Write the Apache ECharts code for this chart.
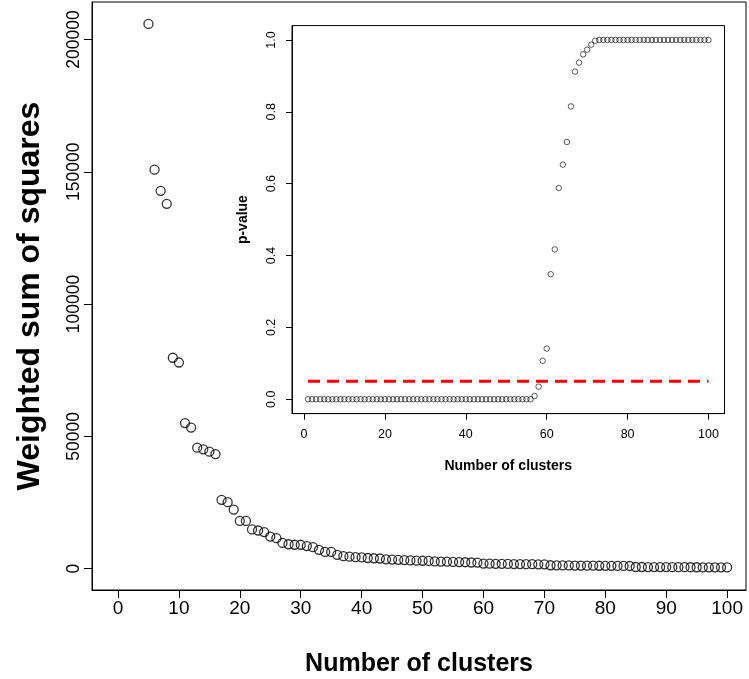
<!DOCTYPE html>
<html>
<head>
<meta charset="utf-8">
<script src="https://cdn.jsdelivr.net/npm/echarts@6/dist/echarts.min.js"></script>
<style>html,body{margin:0;padding:0;background:#fff;}#c{width:749px;height:679px;}</style>
</head>
<body>
<div id="c"></div>
<script>
// Main panel: number of clusters vs weighted sum of squares
const mainClusters = [5,6,7,8,9,10,11,12,13,14,15,16,17,18,19,20,21,22,23,24,25,26,27,28,29,30,
  31,32,33,34,35,36,37,38,39,40,41,42,43,44,45,46,47,48,49,50,51,52,53,54,55,56,57,58,59,60,
  61,62,63,64,65,66,67,68,69,70,71,72,73,74,75,76,77,78,79,80,81,82,83,84,85,86,87,88,89,90,
  91,92,93,94,95,96,97,98,99,100];
const mainWSS = [205900,150800,142800,137900,79700,77900,55000,53300,45700,45100,44200,43300,
  26000,25100,22300,18000,18000,14800,14400,13800,12100,11500,9700,9200,9000,9000,
  8500,8100,7100,6300,6300,5200,4700,4500,4300,4200,4000,3900,3800,3500,3400,3300,3200,3100,3000,2950,
  2900,2700,2650,2600,2500,2450,2400,2300,2250,1900,1850,1800,1780,1750,1720,1700,1680,1650,1620,1600,
  1250,1230,1200,1180,1150,1130,1100,1080,1060,1050,1030,1010,1000,980,600,590,580,570,560,550,
  540,530,520,510,500,490,480,470,460,450];
const mainXTicks = [0,10,20,30,40,50,60,70,80,90,100];
const mainYTicks = [0,50000,100000,150000,200000];

// Inset: number of clusters vs p-value
const insetClusters = [1,2,3,4,5,6,7,8,9,10,11,12,13,14,15,16,17,18,19,20,21,22,23,24,25,26,27,28,29,30,
  31,32,33,34,35,36,37,38,39,40,41,42,43,44,45,46,47,48,49,50,51,52,53,54,55,56,57,58,59,60,
  61,62,63,64,65,66,67,68,69,70,71,72,73,74,75,76,77,78,79,80,81,82,83,84,85,86,87,88,89,90,
  91,92,93,94,95,96,97,98,99,100];
const insetP = [0,0,0,0,0,0,0,0,0,0,0,0,0,0,0,0,0,0,0,0,0,0,0,0,0,0,0,0,0,0,
  0,0,0,0,0,0,0,0,0,0,0,0,0,0,0,0,0,0,0,0,0,0,0,0,0,0,
  0.009,0.035,0.107,0.141,0.348,0.417,0.588,0.653,0.716,0.815,0.912,0.937,0.960,0.973,0.987,0.998,
  1,1,1,1,1,1,1,1,1,1,1,1,1,1,1,1,1,1,1,1,1,1,1,1,1,1,1,1];
const insetXTicks = [0,20,40,60,80,100];
const insetYTicks = [0,0.2,0.4,0.6,0.8,1.0];
const thresholdX = [1,100];
const thresholdP = 0.05;

const FONT = '"Liberation Sans", Arial, sans-serif';
const chart = echarts.init(document.getElementById('c'), null, {renderer: 'canvas'});

function axisCommon(ticks, fs, tickLen, margin, fmt) {
  return {
    axisLine: {show: true, onZero: false, lineStyle: {color: '#000', width: 1}},
    axisTick: {show: true, length: tickLen, inside: false, customValues: ticks, lineStyle: {color: '#000', width: 1}},
    axisLabel: {show: true, customValues: ticks, margin: margin, fontFamily: FONT, fontSize: fs, color: '#000', formatter: fmt},
    splitLine: {show: false}
  };
}

const option = {
  backgroundColor: '#fff',
  animation: false,
  grid: [
    {left: 92, top: 2, width: 654, height: 588, show: true, borderColor: '#000', borderWidth: 1,
     backgroundColor: 'transparent', containLabel: false, outerBoundsMode: 'none'},
    {left: 292, top: 25.6, width: 432.5, height: 388, show: true, borderColor: '#000', borderWidth: 1,
     backgroundColor: 'transparent', containLabel: false, outerBoundsMode: 'none'}
  ],
  xAxis: [
    Object.assign({type: 'value', gridIndex: 0, min: -4.27, max: 103.1,
      name: 'Number of clusters', nameLocation: 'middle', nameGap: 62,
      nameTextStyle: {fontFamily: FONT, fontSize: 25, fontWeight: 'bold', color: '#000'}},
      axisCommon(mainXTicks, 19, 8, 9, v => String(v))),
    Object.assign({type: 'value', gridIndex: 1, min: -2.96, max: 103.96,
      name: 'Number of clusters', nameLocation: 'middle', nameGap: 46,
      nameTextStyle: {fontFamily: FONT, fontSize: 14, fontWeight: 'bold', color: '#000'}},
      axisCommon(insetXTicks, 12.5, 6, 14, v => String(v)))
  ],
  yAxis: [
    Object.assign({type: 'value', gridIndex: 0, min: -8100, max: 214200,
      name: 'Weighted sum of squares', nameLocation: 'middle', nameGap: 46,
      nameTextStyle: {fontFamily: FONT, fontSize: 32, fontWeight: 'bold', color: '#000'}},
      axisCommon(mainYTicks, 17.5, 8, 9, v => String(v))),
    Object.assign({type: 'value', gridIndex: 1, min: -0.04, max: 1.04,
      name: 'p-value', nameLocation: 'middle', nameGap: 42,
      nameTextStyle: {fontFamily: FONT, fontSize: 14, fontWeight: 'bold', color: '#000'}},
      axisCommon(insetYTicks, 12.5, 6, 14, v => v.toFixed(1)))
  ],
  series: [
    {type: 'scatter', xAxisIndex: 0, yAxisIndex: 0, symbol: 'circle', symbolSize: 9,
     itemStyle: {color: 'transparent', borderColor: '#000', borderWidth: 1.3},
     data: mainClusters.map((k, i) => [k, mainWSS[i]])},
    {type: 'line', xAxisIndex: 1, yAxisIndex: 1, symbol: 'none',
     lineStyle: {color: '#ff0000', width: 3, type: [12, 7]},
     data: thresholdX.map(k => [k, thresholdP])},
    {type: 'scatter', xAxisIndex: 1, yAxisIndex: 1, symbol: 'circle', symbolSize: 5.5,
     itemStyle: {color: 'transparent', borderColor: '#000', borderWidth: 0.8},
     data: insetClusters.map((k, i) => [k, insetP[i]])}
  ]
};
option.yAxis[0].axisLabel.rotate = 90;
option.yAxis[1].axisLabel.rotate = 90;
chart.setOption(option);
</script>
</body>
</html>
